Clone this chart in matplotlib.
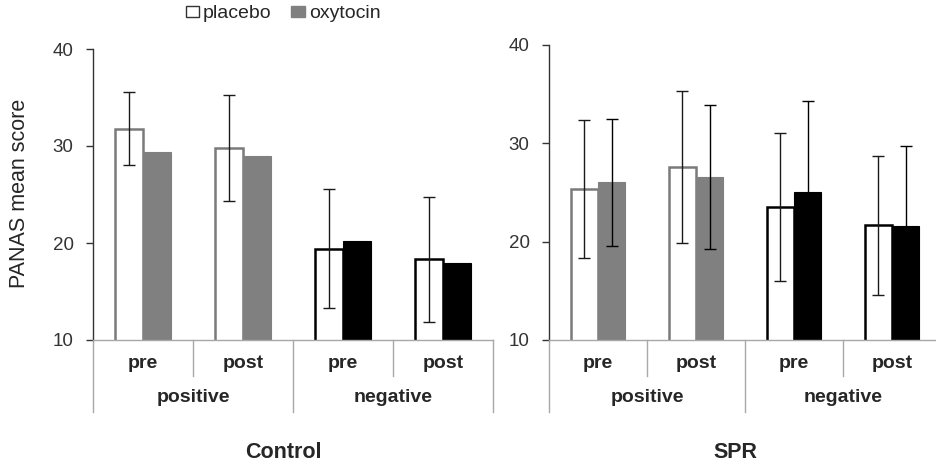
import numpy as np
import matplotlib
matplotlib.use("Agg")
import matplotlib.pyplot as plt
from matplotlib.patches import Patch

plt.rcParams['font.family'] = ['Liberation Sans', 'DejaVu Sans']

# ---- data ----
conditions = ["pre", "post", "pre", "post"]
valences = ["positive", "negative"]
valence_of_bar = ["positive", "positive", "negative", "negative"]
panels = ["Control", "SPR"]
series = ["placebo", "oxytocin"]
yticks = [10, 20, 30, 40]

control_placebo = [31.8, 29.8, 19.4, 18.3]
control_placebo_sd = [3.8, 5.5, 6.15, 6.4]
control_oxytocin = [29.4, 29.0, 20.2, 17.9]
control_oxytocin_sd = None

spr_placebo = [25.35, 27.6, 23.55, 21.65]
spr_placebo_sd = [7.05, 7.75, 7.5, 7.1]
spr_oxytocin = [26.05, 26.6, 25.0, 21.6]
spr_oxytocin_sd = [6.45, 7.3, 9.3, 8.1]

# ---- styles ----
GRAY = "#808080"
oxy_fill = {"positive": GRAY, "negative": "black"}
plac_edge = {"positive": "#7a7a7a", "negative": "black"}
AX_GRAY = "#a8a8a8"
TXT = "#262626"

fig = plt.figure(figsize=(9.36, 4.66), dpi=100)
W, H = 936, 466
ax_l = fig.add_axes([93 / W, 1 - 340 / H, 400 / W, 291 / H])
ax_r = fig.add_axes([549 / W, 1 - 340 / H, 392 / W, 295 / H])

panel_data = [
    (ax_l, control_placebo, control_placebo_sd, control_oxytocin, control_oxytocin_sd, panels[0]),
    (ax_r, spr_placebo, spr_placebo_sd, spr_oxytocin, spr_oxytocin_sd, panels[1]),
]

bw = 0.28
centers = np.arange(len(conditions)) + 0.5

for ax, plac, plac_sd, oxy, oxy_sd, title in panel_data:
    xp = centers - bw / 2
    xo = centers + bw / 2
    ax.bar(xp, plac, bw, facecolor="white",
           edgecolor=[plac_edge[v] for v in valence_of_bar], linewidth=1.8, zorder=2)
    ax.bar(xo, oxy, bw, color=[oxy_fill[v] for v in valence_of_bar],
           edgecolor=[oxy_fill[v] for v in valence_of_bar], linewidth=0.8, zorder=2)
    ax.errorbar(xp, plac, yerr=plac_sd, fmt="none", ecolor="#1a1a1a",
                elinewidth=1.0, capsize=4, capthick=1.0, zorder=3)
    if oxy_sd is not None:
        ax.errorbar(xo, oxy, yerr=oxy_sd, fmt="none", ecolor="black",
                    elinewidth=1.0, capsize=4, capthick=1.0, zorder=3)

    ax.set_xlim(0, len(conditions))
    ax.set_ylim(yticks[0], yticks[-1])
    ax.set_yticks(yticks)
    ax.set_xticks([])
    for s in ["top", "right"]:
        ax.spines[s].set_visible(False)
    ax.spines["bottom"].set_color(AX_GRAY)
    ax.spines["bottom"].set_linewidth(1.0)
    ax.spines["left"].set_color("#333333")
    ax.spines["left"].set_linewidth(1.0)
    ax.tick_params(axis="y", direction="out", length=5, width=1, color="#333333",
                   labelsize=13.5, labelcolor="#333333", pad=9)

    # hierarchical category axis below
    h_px = ax.get_position().height * H
    tr = ax.get_xaxis_transform()
    inner = -36 / h_px
    outer = -72 / h_px
    for i in range(1, len(conditions), 2):
        ax.plot([i, i], [0, inner], transform=tr, clip_on=False, color=AX_GRAY, lw=1.0)
    for i in range(0, len(conditions) + 1, 2):
        ax.plot([i, i], [0, outer], transform=tr, clip_on=False, color=AX_GRAY, lw=1.0)
    for c, lab in zip(centers, conditions):
        ax.text(c, -24 / h_px, lab, transform=tr, ha="center", va="center",
                fontsize=14, fontweight="bold", color=TXT)
    for k, v in enumerate(valences):
        ax.text(2 * k + 1, -58 / h_px, v, transform=tr, ha="center", va="center",
                fontsize=14, fontweight="bold", color=TXT)
    ax.text(1.9, -113 / h_px, title, transform=tr, ha="center", va="center",
            fontsize=15.5, fontweight="bold", color=TXT)

fig.text(20 / W, 1 - 193 / H, "PANAS mean score", rotation=90, ha="center",
         va="center", fontsize=15.5, color=TXT)

handles = [Patch(facecolor="white", edgecolor="#333333", linewidth=1.0),
           Patch(facecolor=GRAY, edgecolor=GRAY)]
fig.legend(handles, series, loc="center", bbox_to_anchor=(283 / W, 1 - 14 / H),
           ncol=2, frameon=False, fontsize=14, handlelength=0.7, handleheight=0.5,
           handletextpad=0.2, columnspacing=1.0, labelcolor=TXT)

fig.savefig("out.png", dpi=100)
